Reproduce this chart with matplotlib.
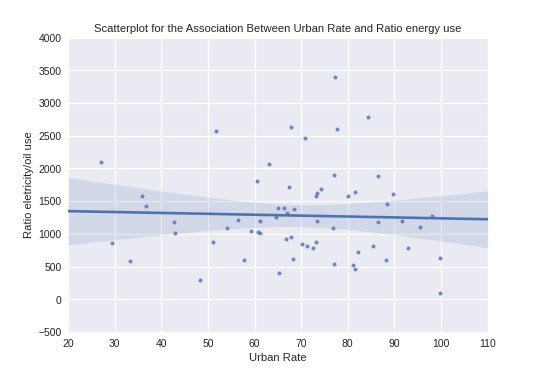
"""Scatter of urban rate vs electricity/oil use ratio with a linear fit."""

import matplotlib
matplotlib.use("Agg")
import matplotlib.pyplot as plt
import numpy as np

urban_rate = [
    27.0, 51.7, 63.0, 60.6, 77.3, 84.3, 67.8, 77.7, 70.9, 77.1,
    86.4, 67.3, 74.2, 35.9, 36.7, 42.7, 42.9, 29.4, 33.2, 48.4,
    51.2, 54.0, 56.4, 57.7, 59.2, 60.8, 61.2, 61.2, 64.7, 65.1,
    65.3, 73.3, 73.2, 81.5, 80.1, 89.7, 88.5, 66.3, 68.4, 67.0,
    73.5, 86.4, 91.7, 98.1, 95.4, 76.8, 66.8, 67.9, 70.2, 71.2,
    72.6, 73.2, 68.3, 77.0, 81.1, 81.6, 82.1, 85.4, 88.1, 93.0,
    99.7, 99.7,
]
ratio_use = [
    2100, 2565, 2070, 1815, 3400, 2785, 2640, 2600, 2465, 1905,
    1890, 1715, 1690, 1575, 1425, 1185, 1020, 857, 586, 295,
    877, 1090, 1214, 606, 1050, 1025, 1010, 1194, 1265, 1393,
    408, 1622, 1576, 1647, 1576, 1617, 1464, 1398, 1382, 1316,
    1194, 1183, 1194, 1275, 1112, 1091, 918, 953, 842, 811,
    781, 877, 622, 545, 525, 468, 729, 811, 606, 781,
    627, 101,
]

blue = "#4C72B0"

x = np.asarray(urban_rate, dtype=float)
y = np.asarray(ratio_use, dtype=float)

# linear fit and 95% confidence band
slope, intercept = np.polyfit(x, y, 1)
grid = np.linspace(20, 110, 200)
fit = intercept + slope * grid
n = len(x)
resid = y - (intercept + slope * x)
s_err = np.sqrt(np.sum(resid ** 2) / (n - 2))
sxx = np.sum((x - x.mean()) ** 2)
band = 2.0 * s_err * np.sqrt(1.0 / n + (grid - x.mean()) ** 2 / sxx)

plt.rcParams["font.family"] = ["Liberation Sans", "DejaVu Sans"]

fig = plt.figure(figsize=(8, 5.5), dpi=67.5)
ax = fig.add_axes([0.126, 0.105, 0.777, 0.793])
ax.set_facecolor("#EAEAF2")
for spine in ax.spines.values():
    spine.set_visible(False)
ax.grid(True, color="white", linewidth=1.3)
ax.set_axisbelow(True)

ax.scatter(x, y, s=18, color=blue, alpha=0.8, linewidths=0, zorder=3)
ax.plot(grid, fit, color=blue, linewidth=2.8, zorder=4)
ax.fill_between(grid, fit - band, fit + band, color=blue, alpha=0.15,
                linewidth=0, zorder=2)

ax.set_xlim(20, 110)
ax.set_ylim(-500, 4000)
ax.set_xticks(np.arange(20, 111, 10))
ax.set_yticks(np.arange(-500, 4001, 500))
ax.tick_params(length=0, labelsize=11, colors="#262626", pad=7)

ax.set_xlabel("Urban Rate", fontsize=12, color="#262626")
ax.set_ylabel("Ratio eletricity/oil use", fontsize=12, color="#262626")
ax.set_title("Scatterplot for the Association Between Urban Rate and Ratio energy use",
             fontsize=12, color="#262626")

fig.savefig("out.png", dpi=67.5)
